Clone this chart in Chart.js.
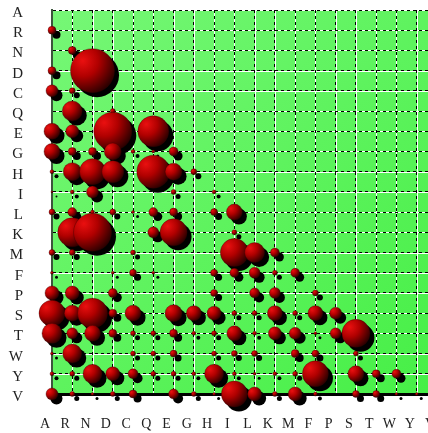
<!DOCTYPE html>
<html>
<head>
<meta charset="utf-8">
<script src="https://cdn.jsdelivr.net/npm/chart.js@4.4.1/dist/chart.umd.min.js"></script>
<style>
  html, body { margin: 0; padding: 0; background: #fff; overflow: hidden; }
  #wrap { width: 437px; height: 433px; }
</style>
</head>
<body>
<div id="wrap"><canvas id="chart" width="437" height="433"></canvas></div>
<script>
var aminoAcids = ['A', 'R', 'N', 'D', 'C', 'Q', 'E', 'G', 'H', 'I', 'L', 'K', 'M', 'F', 'P', 'S', 'T', 'W', 'Y', 'V'];

// bubble size per row, one value for every column left of the diagonal
var rowA = [];
var rowR = [4];
var rowN = [0, 4];
var rowD = [4, 0, 22];
var rowC = [6, 3, 0, 0];
var rowQ = [0, 10, 0, 2.5, 0];
var rowE = [8, 6.5, 0, 19, 0, 15.5];
var rowG = [8, 4, 4, 8.5, 2, 1.5, 4.5];
var rowH = [2, 9, 13, 11, 0, 16.5, 8.5, 3];
var rowI = [1, 2, 6, 0, 0, 0, 2.5, 0, 2];
var rowL = [3, 4.5, 2, 3, 1.5, 4.5, 4, 0, 3.5, 8];
var rowK = [0, 14.5, 19, 0, 0, 5.5, 13.5, 0, 0, 2.5, 0];
var rowM = [3, 3, 0, 0, 2.5, 0, 0, 0, 0, 14, 10, 4.5];
var rowF = [1.5, 0, 0, 1.5, 3.5, 1.5, 0, 0, 3.5, 4.5, 5.5, 2.5, 4.5];
var rowP = [7, 7, 0, 4.5, 0, 0, 0, 0, 3.5, 0, 5, 5.5, 0, 3];
var rowS = [13, 8, 15, 4, 8, 0, 8.5, 7.5, 7, 2.5, 2.5, 7.5, 2.5, 7.5, 6];
var rowT = [10, 5.5, 8, 4, 2.5, 2.5, 4, 2, 2.5, 7.5, 2, 6.5, 6, 1.5, 5.5, 14];
var rowW = [1.5, 9.5, 0, 0, 2.5, 2.5, 3.5, 0, 2.5, 3, 3, 0, 4, 3.5, 0, 2.5, 0];
var rowY = [2, 2.5, 9.5, 7, 5, 2.5, 2.5, 2, 9.5, 2, 1.5, 2, 2.5, 13, 0, 8, 4, 4.5];
var rowV = [6, 2.5, 1.5, 2.5, 4, 0, 5, 2.5, 1.5, 13, 7, 2.5, 7, 2, 0, 3.5, 3.5, 1.5, 1.5];

var sizeRows = [rowA, rowR, rowN, rowD, rowC, rowQ, rowE, rowG, rowH, rowI,
  rowL, rowK, rowM, rowF, rowP, rowS, rowT, rowW, rowY, rowV];

var points = [];
sizeRows.forEach(function (row, i) {
  row.forEach(function (size, j) {
    if (size > 0) points.push({x: j, y: i, r: size});
  });
});

function bubbleFill(context) {
  var chart = context.chart;
  var p = context.raw;
  if (!p || !chart.chartArea) return '#a00000';
  var cx = chart.scales.x.getPixelForValue(p.x);
  var cy = chart.scales.y.getPixelForValue(p.y);
  var fx = cx - p.r * 0.45, fy = cy - p.r * 0.45;
  var g = chart.ctx.createRadialGradient(fx, fy, 0, fx, fy, p.r * 1.6);
  g.addColorStop(0, '#ea1010');
  g.addColorStop(0.45, '#b00000');
  g.addColorStop(1, '#2c0000');
  return g;
}

// green panel + white lines under the dashed grid
var panelPlugin = {
  id: 'panel',
  beforeDraw: function (chart) {
    var ctx = chart.ctx, a = chart.chartArea;
    var g = ctx.createLinearGradient(a.left, a.top, a.right, a.bottom);
    g.addColorStop(0, '#76f776');
    g.addColorStop(1, '#46ef46');
    ctx.save();
    ctx.fillStyle = g;
    ctx.fillRect(a.left, a.top, a.right - a.left, a.bottom - a.top);
    ctx.strokeStyle = '#ffffff';
    ctx.lineWidth = 1;
    ctx.beginPath();
    chart.scales.x.ticks.forEach(function (t) {
      var x = Math.round(chart.scales.x.getPixelForValue(t.value)) + 0.5;
      ctx.moveTo(x, a.top); ctx.lineTo(x, a.bottom);
    });
    chart.scales.y.ticks.forEach(function (t) {
      var y = Math.round(chart.scales.y.getPixelForValue(t.value)) + 0.5;
      ctx.moveTo(a.left, y); ctx.lineTo(a.right, y);
    });
    ctx.stroke();
    ctx.restore();
  },
  // shift the shadow copy down and right
  beforeDatasetDraw: function (chart, args) {
    if (args.index === 1) {
      chart.ctx.save();
      chart.ctx.translate(4.5, 4.5);
    }
  },
  afterDatasetDraw: function (chart, args) {
    if (args.index === 1) chart.ctx.restore();
  }
};

var labelFamily = "'Liberation Serif', 'DejaVu Serif', serif";

new Chart(document.getElementById('chart').getContext('2d'), {
  type: 'bubble',
  data: {
    datasets: [{
      data: points,
      backgroundColor: bubbleFill,
      borderColor: 'rgba(50,0,0,0.7)',
      borderWidth: 0.5,
      clip: false
    }, {
      data: points,
      backgroundColor: '#000000',
      borderWidth: 0,
      clip: false
    }]
  },
  options: {
    responsive: false,
    animation: false,
    events: [],
    layout: {autoPadding: false, padding: {top: 10, left: 0, right: 0, bottom: 0}},
    plugins: {legend: {display: false}, tooltip: {enabled: false}},
    scales: {
      x: {
        type: 'linear',
        min: 0,
        max: 19,
        grid: {color: '#000000', lineWidth: 1, drawTicks: false},
        border: {color: '#000000', width: 3, dash: [3, 3]},
        ticks: {
          stepSize: 1,
          autoSkip: false,
          maxRotation: 0,
          padding: 22,
          labelOffset: -7,
          color: '#222222',
          font: {family: labelFamily, size: 14},
          callback: function (value) { return aminoAcids[value]; }
        },
        afterFit: function (scale) {
          scale.height = 39;
          scale.paddingLeft = 0;
          scale.paddingRight = 0;
        }
      },
      y: {
        type: 'linear',
        min: 0,
        max: 19,
        reverse: true,
        grid: {color: '#000000', lineWidth: 1, drawTicks: false},
        border: {color: '#3c553c', width: 2, dash: [3, 3]},
        ticks: {
          stepSize: 1,
          autoSkip: false,
          padding: 29,
          labelOffset: 3,
          color: '#222222',
          font: {family: labelFamily, size: 15},
          callback: function (value) { return aminoAcids[value]; }
        },
        afterFit: function (scale) {
          scale.width = 52;
          scale.paddingTop = 0;
          scale.paddingBottom = 0;
        }
      }
    }
  },
  plugins: [panelPlugin]
});
</script>
</body>
</html>
